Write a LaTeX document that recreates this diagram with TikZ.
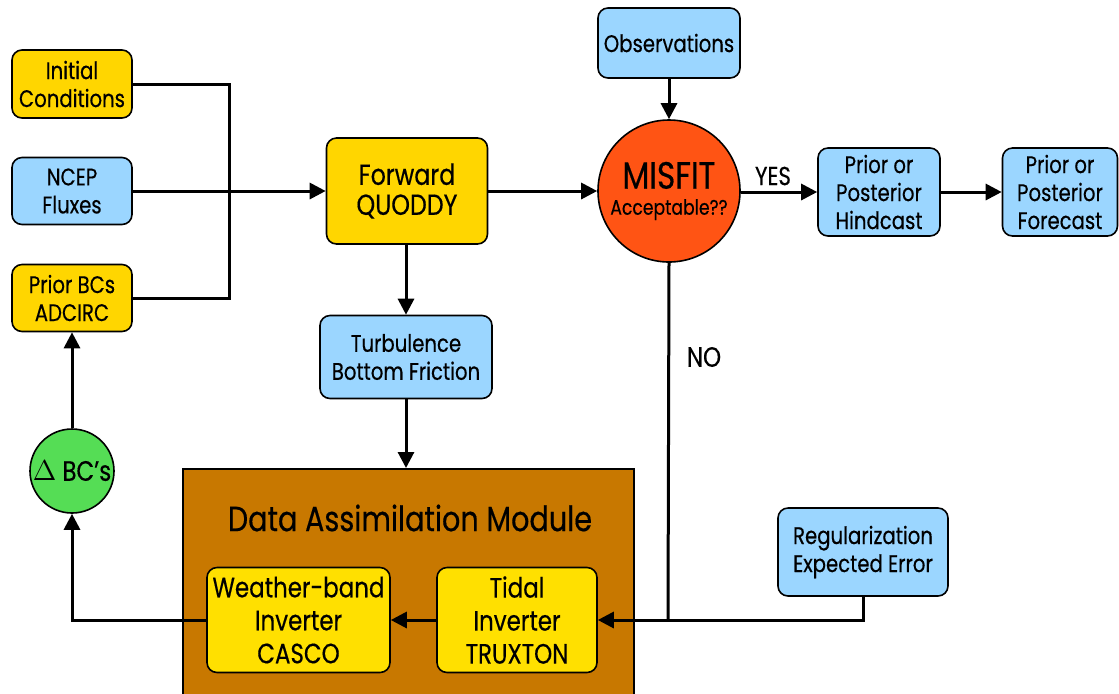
\documentclass[tikz,border=0pt]{standalone}
\usepackage{fontspec}
\setmainfont[FakeStretch=0.82,FakeBold=0.4]{Poppins}
\usetikzlibrary{arrows.meta,calc}
\definecolor{cyel}{RGB}{255,214,0}
\definecolor{cyel2}{RGB}{255,224,0}
\definecolor{cblue}{RGB}{155,214,255}
\definecolor{cred}{RGB}{255,84,20}
\definecolor{cgreen}{RGB}{85,221,85}
\definecolor{cbrown}{RGB}{200,120,0}
\tikzset{
  box/.style={draw=black, line width=0.8pt, rounded corners=5pt, align=center, inner sep=0pt, font=\fontsize{12}{14}\selectfont},
  ybox/.style={box, fill=cyel},
  bbox/.style={box, fill=cblue},
  ibox/.style={box, fill=cyel2, font=\fontsize{14}{16.5}\selectfont},
  wire/.style={line width=1.5pt, draw=black},
  arr/.style={wire, -{Triangle[length=8pt,width=8pt]}},
}
\begin{document}
\begin{tikzpicture}[x=0.5pt,y=-0.5pt]
\useasboundingbox (0,0) rectangle (1119,693);
% Data assimilation module
\node[draw=black, line width=0.8pt, fill=cbrown, minimum width=225.5pt, minimum height=130pt, anchor=north west, inner sep=0pt] (dam) at (182,468) {};
\node[font=\fontsize{17.5}{20}\selectfont] (damt) at (410,518) {Data Assimilation Module};
% left inputs
\node[ybox, minimum width=60pt, minimum height=34pt] (ic) at (72,84) {Initial\\Conditions};
\node[bbox, minimum width=60pt, minimum height=33.5pt] (ncep) at (72,191) {NCEP\\Fluxes};
\node[ybox, minimum width=60pt, minimum height=33.5pt] (pb) at (72,298) {Prior BCs\\ADCIRC};
% forward
\node[ybox, minimum width=80.5pt, minimum height=53pt, font=\fontsize{14.5}{15}\selectfont] (fwd) at (407,191) {Forward\\QUODDY};
\node[bbox, minimum width=86pt, minimum height=41.5pt] (tur) at (406,357) {Turbulence\\Bottom Friction};
% misfit
\node[bbox, minimum width=71pt, minimum height=35pt] (obs) at (669,43) {Observations};
\node[circle, draw=black, line width=0.8pt, fill=cred, minimum size=71pt, inner sep=0pt, align=center] (mis) at (669,191) {{\fontsize{19}{20}\selectfont MISFIT}\\[1pt]{\fontsize{10.5}{12}\selectfont Acceptable??}};
\node[font=\fontsize{13}{15}\selectfont] (yes) at (773,176) {YES};
\node[bbox, minimum width=61pt, minimum height=44pt] (hind) at (879,192) {Prior or\\Posterior\\Hindcast};
\node[bbox, minimum width=57.5pt, minimum height=44pt] (fore) at (1060,192) {Prior or\\Posterior\\Forecast};
\node[font=\fontsize{14}{16}\selectfont] (no) at (704,357) {NO};
% regularization
\node[bbox, minimum width=85pt, minimum height=44pt] (reg) at (863,552) {Regularization\\Expected Error};
% inverters
\node[ibox, minimum width=91.5pt, minimum height=52.5pt] (wb) at (298.5,620) {Weather-band\\Inverter\\CASCO};
\node[ibox, minimum width=80pt, minimum height=52.5pt] (tid) at (517,620) {Tidal\\Inverter\\TRUXTON};
% delta BCs
\node[circle, draw=black, line width=0.8pt, fill=cgreen, minimum size=42pt, inner sep=0pt, font=\fontsize{14}{16}\selectfont] (dbc) at (72,471) {$\Delta$ BC’s};
% connectors
\coordinate (jt) at (229,84);
\coordinate (jb) at (229,298);
\draw[wire] (ic.east) -- (jt) -- (jb) -- (pb.east);
\draw[arr] (ncep.east) -- (fwd.west);
\draw[arr] (fwd.east) -- (fwd.east -| mis.west);
\draw[arr] (obs.south) -- (mis.north);
\draw[arr] (mis.east |- hind.west) -- (hind.west);
\draw[arr] (hind.east) -- (fore.west);
\draw[arr] (fwd.south -| tur.north) -- (tur.north);
\draw[arr] (tur.south) -- (tur.south |- dam.north);
\coordinate (nj) at (668,621);
\draw[wire] (mis.south) -- (nj);
\draw[arr] (reg.south) |- (tid.east);
\draw[arr] (tid.west) -- (wb.east);
\draw[arr] (wb.west) -| (dbc.south);
\draw[arr] (dbc.north) -- (pb.south);
\end{tikzpicture}
\end{document}
